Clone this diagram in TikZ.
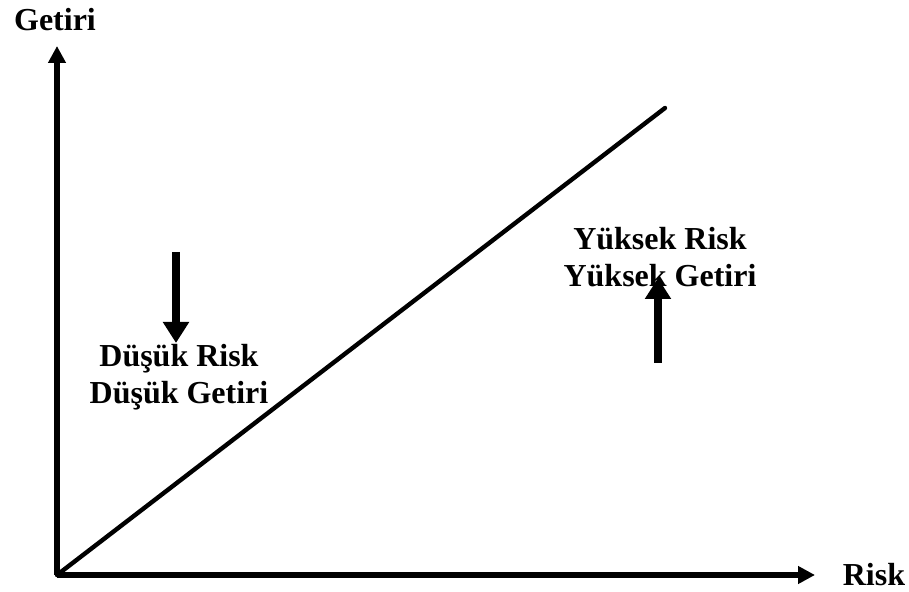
\documentclass[tikz,border=0pt]{standalone}
\usepackage{fontspec}
\setmainfont{Liberation Serif}
\usetikzlibrary{arrows.meta}

\tikzset{
  axis/.style={line width=2.7pt, -{Triangle[length=8.5pt,width=8.5pt]}},
  trend/.style={line width=2.2pt},
  bigarrow/.style={line width=3.6pt, -{Triangle[length=10.5pt,width=12.5pt]}},
  lbl/.style={font=\fontsize{16}{18.5}\selectfont\bfseries, align=center, inner sep=0pt}
}

\begin{document}
\begin{tikzpicture}[x=0.5pt,y=-0.5pt]
        \useasboundingbox (0,0) rectangle (909,592);
        % axes
        \coordinate (O) at (57,575);
        \coordinate (ytop) at (57,46);
        \coordinate (xend) at (815,575);
        \coordinate (lineend) at (665,108);
        \node[lbl] (getiri) at (55,20) {Getiri};
        \node[lbl] (risk) at (874,575) {Risk};

        % labels
        \node[lbl] (low) at (179,377) {Düşük Risk\\Düşük Getiri};
        \node[lbl] (high) at (660,257) {Yüksek Risk\\Yüksek Getiri};

        % arrow ends
        \coordinate (lowtop) at (176,252);
        \coordinate (lowtip) at (176,343);
        \coordinate (highbot) at (658,363);
        \coordinate (hightip) at (658,278);

        % edges
        \draw[axis] (O) -- (ytop);
        \draw[axis] (O) -- (xend);
        \draw[trend, line cap=round] (O) -- (lineend);
        \draw[bigarrow] (lowtop) -- (lowtip);
        \draw[bigarrow] (highbot) -- (hightip);
\end{tikzpicture}
\end{document}
